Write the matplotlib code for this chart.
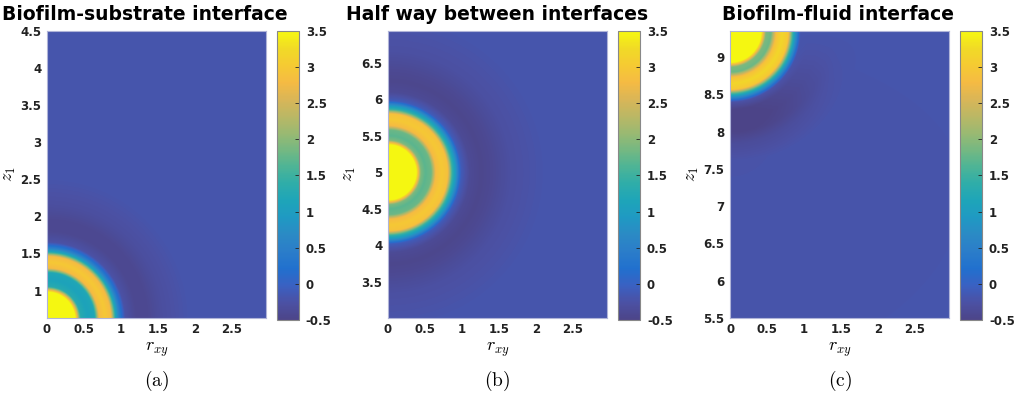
import matplotlib
matplotlib.use('Agg')
import matplotlib.pyplot as plt
import numpy as np
from matplotlib.colors import LinearSegmentedColormap

plt.rcParams['mathtext.fontset'] = 'cm'

## data

titles = ['Biofilm-substrate interface', 'Half way between interfaces', 'Biofilm-fluid interface']
captions = ['(a)', '(b)', '(c)']
xlims = [(0, 2.96), (0, 2.96), (0, 2.96)]
zlims = [(0.63, 4.5), (3.01, 6.93), (5.5, 9.35)]
zcentres = [0.6, 5.0, 9.35]
xticks = [0, 0.5, 1, 1.5, 2, 2.5]
zticks = [[1, 1.5, 2, 2.5, 3, 3.5, 4, 4.5],
          [3.5, 4, 4.5, 5, 5.5, 6, 6.5],
          [5.5, 6, 6.5, 7, 7.5, 8, 8.5, 9]]
cbar_ticks = [-0.5, 0, 0.5, 1, 1.5, 2, 2.5, 3, 3.5]
background = -0.2

# radial profiles (distance from cell centre -> value)
radii_a = [0, 0.38, 0.45, 0.55, 0.64, 0.7, 0.78, 0.86, 0.92, 0.97, 1.05, 1.2, 1.35, 1.55, 1.9, 5]
vals_a = [3.5, 3.5, 1.3, 1.1, 1.2, 2.8, 3.0, 2.8, 1.2, 0.5, -0.25, -0.42, -0.42, -0.3, -0.2, -0.2]
radii_b = [0, 0.38, 0.44, 0.5, 0.58, 0.64, 0.72, 0.8, 0.86, 0.91, 0.98, 1.1, 1.25, 1.4, 1.65, 2.1, 5]
vals_b = [3.5, 3.5, 1.9, 1.7, 1.8, 2.8, 3.0, 2.9, 1.5, 0.9, -0.1, -0.38, -0.45, -0.4, -0.28, -0.2, -0.2]
radii_c = [0, 0.42, 0.48, 0.55, 0.62, 0.7, 0.78, 0.84, 0.88, 0.95, 1.05, 1.2, 1.35, 1.5, 1.75, 5]
vals_c = [3.5, 3.5, 1.9, 1.8, 2.9, 3.2, 3.0, 1.5, 0.8, -0.25, -0.5, -0.55, -0.5, -0.35, -0.22, -0.2]
radii = [radii_a, radii_b, radii_c]
vals = [vals_a, vals_b, vals_c]

# parula colours
parula = [(0.2081, 0.1663, 0.5292), (0.2081, 0.2386, 0.6771), (0.1253, 0.3242, 0.8303),
          (0.0060, 0.4086, 0.8828), (0.0629, 0.4737, 0.8554), (0.0749, 0.5375, 0.8263),
          (0.0265, 0.6137, 0.8135), (0.0267, 0.6642, 0.7607), (0.1133, 0.7015, 0.6859),
          (0.2586, 0.7317, 0.5954), (0.4420, 0.7481, 0.5033), (0.6099, 0.7473, 0.4337),
          (0.7525, 0.7384, 0.3768), (0.8824, 0.7274, 0.3217), (0.9938, 0.7455, 0.2403),
          (0.9880, 0.8066, 0.1794), (0.9626, 0.8705, 0.1309), (0.9763, 0.9831, 0.0538)]
# printed copy looks washed out in the blues, less so in the yellows
n = len(parula)
faded = []
for k, rgb in enumerate(parula):
    f = 0.24 * (1 - k / (n - 1)) + 0.03
    faded.append(tuple((1 - f) * c + f * 0.55 for c in rgb))
cmap = LinearSegmentedColormap.from_list('parula', faded)

## plot and save

fig = plt.figure(figsize=(10.14, 3.93), dpi=100)
lefts = [0.0464, 0.3826, 0.72]
cb_lefts = [0.273, 0.6095, 0.9467]
title_x = [0.143, 0.490, 0.8265]

for i in range(3):
    ax = fig.add_axes([lefts[i], 0.191, 0.216, 0.730])
    x = np.linspace(xlims[i][0], xlims[i][1], 400)
    z = np.linspace(zlims[i][0], zlims[i][1], 500)
    X, Z = np.meshgrid(x, z)
    R = np.hypot(X, Z - zcentres[i])
    F = np.interp(R, radii[i], vals[i])
    if i == 2:
        # the dark halo in (c) sits under the cell, not beside it
        w = np.clip((zcentres[i] - Z) / np.maximum(R, 1e-6), 0, 1) ** 1.5
        low = F < background
        F[low] = background + (F[low] - background) * w[low]
    im = ax.imshow(F, extent=[xlims[i][0], xlims[i][1], zlims[i][0], zlims[i][1]],
                   origin='lower', aspect='auto', cmap=cmap, vmin=-0.5, vmax=3.5,
                   interpolation='bilinear')
    ax.set_xlim(xlims[i])
    ax.set_ylim(zlims[i])
    ax.set_xticks(xticks)
    ax.set_xticklabels(['%g' % t for t in xticks])
    ax.set_yticks(zticks[i])
    ax.set_yticklabels(['%g' % t for t in zticks[i]])
    ax.tick_params(length=0, labelsize=8.5, colors='#222222', pad=4)
    for lab in ax.get_xticklabels() + ax.get_yticklabels():
        lab.set_fontweight('bold')
    for s in ax.spines.values():
        s.set_color('#b0b4d8')
        s.set_linewidth(0.8)
    fig.text(title_x[i], 0.962, titles[i], fontsize=13.5, fontweight='bold',
             ha='center', va='center')
    ax.set_xlabel('$r_{xy}$', fontsize=13, labelpad=3)
    ax.set_ylabel('$z_1$', fontsize=13, labelpad=2)

    cax = fig.add_axes([cb_lefts[i], 0.186, 0.0217, 0.735])
    cb = fig.colorbar(im, cax=cax, ticks=cbar_ticks)
    cb.ax.set_yticklabels(['%g' % t for t in cbar_ticks])
    cb.ax.tick_params(direction='in', length=3, width=0.6, labelsize=8.5, colors='#222222', pad=5)
    for lab in cb.ax.get_yticklabels():
        lab.set_fontweight('bold')
    cb.outline.set_edgecolor('#888888')
    cb.outline.set_linewidth(0.8)

    fig.text(lefts[i] + 0.108, 0.03, r'$\mathrm{' + captions[i] + '}$', fontsize=14,
             ha='center', va='center')

plt.savefig('out.png', dpi=100)
